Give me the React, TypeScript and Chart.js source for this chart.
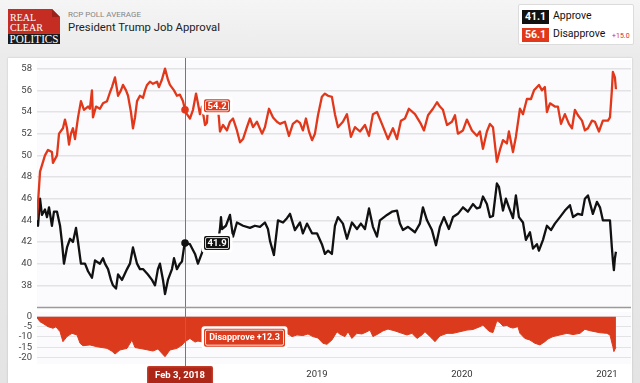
import React, { useEffect, useRef } from 'react';
import { Chart, registerables } from 'chart.js';

Chart.register(...registerables);

// ---- data (dates are decimal years) ----
const approveDates = [
  2017.069, 2017.076, 2017.090, 2017.103, 2017.124, 2017.138, 2017.152, 2017.172, 2017.186, 2017.207,
  2017.228, 2017.241, 2017.255, 2017.276, 2017.297, 2017.317, 2017.338, 2017.352, 2017.372, 2017.400,
  2017.421, 2017.448, 2017.469, 2017.503, 2017.524, 2017.538, 2017.559, 2017.579, 2017.593, 2017.614,
  2017.628, 2017.655, 2017.690, 2017.710, 2017.731, 2017.759, 2017.779, 2017.800, 2017.834, 2017.862,
  2017.883, 2017.903, 2017.917, 2017.938, 2017.952, 2017.972, 2018.000, 2018.014, 2018.034, 2018.055,
  2018.069, 2018.083, 2018.090, 2018.124, 2018.159, 2018.179, 2018.207, 2018.221, 2018.262, 2018.303,
  2018.324, 2018.331, 2018.338, 2018.345, 2018.372, 2018.400, 2018.421, 2018.448, 2018.490, 2018.538,
  2018.572, 2018.607, 2018.641, 2018.662, 2018.676, 2018.703, 2018.731, 2018.766, 2018.793, 2018.814,
  2018.848, 2018.883, 2018.903, 2018.931, 2018.966, 2019.000, 2019.034, 2019.055, 2019.076, 2019.103,
  2019.124, 2019.145, 2019.179, 2019.207, 2019.241, 2019.276, 2019.303, 2019.331, 2019.359, 2019.386,
  2019.414, 2019.434, 2019.483, 2019.517, 2019.552, 2019.572, 2019.593, 2019.628, 2019.676, 2019.710,
  2019.731, 2019.759, 2019.793, 2019.821, 2019.848, 2019.876, 2019.910, 2019.938, 2019.972, 2020.007,
  2020.041, 2020.076, 2020.103, 2020.124, 2020.145, 2020.172, 2020.193, 2020.214, 2020.241, 2020.255,
  2020.283, 2020.303, 2020.324, 2020.352, 2020.372, 2020.393, 2020.421, 2020.441, 2020.469, 2020.490,
  2020.517, 2020.531, 2020.559, 2020.586, 2020.614, 2020.641, 2020.676, 2020.710, 2020.745, 2020.766,
  2020.800, 2020.828, 2020.848, 2020.869, 2020.903, 2020.931, 2020.952, 2020.972, 2021.000, 2021.021,
  2021.034, 2021.041, 2021.048, 2021.055, 2021.062,
];
const approveValues = [
  44.0, 43.5, 46.0, 44.5, 45.0, 44.3, 45.2, 43.5, 44.8, 44.8,
  43.5, 42.0, 40.0, 41.5, 42.3, 42.0, 43.3, 42.0, 40.0, 40.0,
  39.3, 38.7, 40.3, 40.0, 40.5, 40.0, 39.5, 38.5, 38.0, 37.7,
  39.0, 38.5, 39.5, 40.0, 41.5, 40.0, 39.5, 39.5, 39.0, 38.5,
  38.0, 39.5, 40.0, 38.5, 37.2, 38.5, 39.5, 40.5, 39.5, 40.0,
  40.2, 41.5, 41.9, 41.8, 40.9, 40.0, 41.0, 41.8, 42.3, 42.2,
  42.6, 43.2, 44.3, 43.2, 43.5, 44.5, 42.5, 43.8, 43.5, 43.3,
  43.5, 43.4, 43.8, 43.2, 42.1, 40.8, 44.0, 43.8, 44.2, 44.6,
  43.1, 43.8, 42.8, 43.7, 42.8, 42.8, 41.8, 40.9, 41.2, 40.9,
  43.5, 44.3, 43.7, 42.3, 43.8, 43.2, 43.7, 43.2, 45.1, 43.4,
  42.5, 44.0, 44.5, 44.8, 44.9, 43.7, 43.1, 43.4, 42.9, 43.7,
  45.2, 44.0, 43.1, 41.7, 43.4, 44.3, 43.2, 44.3, 44.6, 45.2,
  44.8, 45.5, 45.1, 45.2, 46.2, 45.5, 44.3, 44.4, 47.4, 47.1,
  44.9, 46.0, 45.2, 44.2, 46.3, 44.3, 43.8, 42.2, 42.9, 41.4,
  41.8, 41.2, 42.2, 43.5, 43.1, 43.7, 44.3, 44.9, 45.4, 44.3,
  44.6, 44.5, 46.0, 46.3, 44.6, 45.7, 45.2, 44.0, 44.0, 44.0,
  41.5, 40.3, 39.4, 40.5, 41.1,
];

const disapproveDates = [
  2017.069, 2017.090, 2017.124, 2017.145, 2017.172, 2017.179, 2017.207, 2017.221, 2017.248, 2017.262,
  2017.276, 2017.290, 2017.303, 2017.317, 2017.331, 2017.352, 2017.372, 2017.393, 2017.421, 2017.434,
  2017.448, 2017.455, 2017.476, 2017.503, 2017.524, 2017.552, 2017.572, 2017.586, 2017.607, 2017.628,
  2017.648, 2017.662, 2017.683, 2017.697, 2017.717, 2017.731, 2017.745, 2017.759, 2017.779, 2017.800,
  2017.814, 2017.828, 2017.848, 2017.869, 2017.897, 2017.910, 2017.931, 2017.952, 2017.972, 2017.986,
  2018.014, 2018.034, 2018.055, 2018.076, 2018.090, 2018.103, 2018.124, 2018.145, 2018.166, 2018.179,
  2018.193, 2018.207, 2018.228, 2018.241, 2018.248, 2018.283, 2018.317, 2018.324, 2018.331, 2018.352,
  2018.379, 2018.400, 2018.421, 2018.448, 2018.469, 2018.490, 2018.517, 2018.538, 2018.559, 2018.586,
  2018.621, 2018.641, 2018.669, 2018.697, 2018.724, 2018.745, 2018.779, 2018.807, 2018.834, 2018.862,
  2018.883, 2018.903, 2018.924, 2018.945, 2018.966, 2018.986, 2019.007, 2019.034, 2019.055, 2019.076,
  2019.103, 2019.124, 2019.145, 2019.179, 2019.207, 2019.234, 2019.262, 2019.297, 2019.331, 2019.359,
  2019.386, 2019.414, 2019.448, 2019.490, 2019.524, 2019.552, 2019.579, 2019.607, 2019.634, 2019.676,
  2019.717, 2019.738, 2019.766, 2019.800, 2019.828, 2019.848, 2019.869, 2019.897, 2019.931, 2019.952,
  2019.972, 2020.007, 2020.034, 2020.069, 2020.103, 2020.124, 2020.145, 2020.172, 2020.193, 2020.214,
  2020.241, 2020.262, 2020.283, 2020.310, 2020.324, 2020.352, 2020.372, 2020.400, 2020.421, 2020.448,
  2020.476, 2020.497, 2020.531, 2020.552, 2020.572, 2020.586, 2020.607, 2020.641, 2020.662, 2020.683,
  2020.710, 2020.738, 2020.759, 2020.779, 2020.800, 2020.828, 2020.848, 2020.869, 2020.897, 2020.917,
  2020.945, 2020.972, 2021.007, 2021.021, 2021.034, 2021.041, 2021.055, 2021.062,
];
const disapproveValues = [
  44.2, 48.5, 50.0, 50.5, 50.3, 49.3, 50.0, 52.0, 52.5, 53.3,
  52.5, 51.0, 52.0, 52.5, 51.5, 53.5, 55.0, 54.2, 54.5, 54.3,
  56.0, 53.5, 54.5, 54.3, 54.8, 55.0, 55.8, 56.3, 57.2, 55.5,
  56.0, 56.5, 56.0, 55.5, 54.0, 52.5, 53.5, 55.0, 55.5, 55.3,
  56.0, 56.5, 56.8, 56.6, 56.8, 56.3, 57.0, 58.0, 57.0, 56.5,
  56.0, 55.5, 55.6, 55.0, 54.2, 53.8, 53.4, 54.2, 55.7, 54.8,
  53.8, 54.5, 52.8, 53.0, 54.5, 54.8, 54.3, 53.4, 52.2, 52.8,
  52.3, 53.1, 53.4, 52.3, 51.2, 51.5, 52.6, 53.4, 52.6, 53.1,
  52.0, 52.6, 54.3, 53.5, 53.1, 52.9, 53.1, 51.8, 52.9, 53.2,
  53.0, 52.3, 53.4, 52.2, 51.4, 52.0, 53.7, 55.4, 55.7, 55.5,
  55.4, 53.8, 52.6, 53.1, 53.8, 51.7, 52.6, 52.2, 52.8, 51.8,
  53.8, 54.0, 52.9, 51.5, 52.5, 51.5, 53.2, 53.4, 54.3, 53.8,
  52.9, 52.3, 53.7, 54.3, 54.9, 54.5, 54.2, 52.8, 53.1, 53.7,
  52.0, 52.3, 53.3, 52.3, 51.8, 52.2, 50.6, 52.2, 52.9, 52.6,
  49.4, 50.5, 51.4, 51.1, 52.2, 50.3, 51.7, 54.3, 53.8, 55.2,
  55.2, 56.0, 56.5, 56.0, 56.3, 54.0, 54.8, 54.5, 54.5, 52.9,
  53.8, 52.9, 52.5, 54.2, 53.7, 53.2, 52.3, 52.5, 53.2, 53.1,
  52.2, 53.2, 53.2, 53.5, 56.0, 57.7, 57.2, 56.1,
];

const spreadDates = [
  2017.069, 2017.090, 2017.110, 2017.145, 2017.179, 2017.200, 2017.228, 2017.248, 2017.276, 2017.310,
  2017.345, 2017.366, 2017.386, 2017.434, 2017.483, 2017.552, 2017.586, 2017.607, 2017.641, 2017.690,
  2017.724, 2017.745, 2017.800, 2017.869, 2017.903, 2017.952, 2017.986, 2018.034, 2018.069, 2018.090,
  2018.124, 2018.159, 2018.179, 2018.214, 2018.262, 2018.331, 2018.400, 2018.469, 2018.538, 2018.628,
  2018.676, 2018.710, 2018.766, 2018.793, 2018.828, 2018.862, 2018.903, 2018.938, 2018.972, 2019.007,
  2019.041, 2019.069, 2019.103, 2019.138, 2019.159, 2019.193, 2019.214, 2019.241, 2019.276, 2019.310,
  2019.345, 2019.366, 2019.386, 2019.421, 2019.455, 2019.490, 2019.538, 2019.586, 2019.621, 2019.655,
  2019.690, 2019.724, 2019.745, 2019.793, 2019.814, 2019.848, 2019.897, 2019.938, 2019.986, 2020.034,
  2020.076, 2020.124, 2020.145, 2020.172, 2020.193, 2020.214, 2020.241, 2020.262, 2020.283, 2020.310,
  2020.331, 2020.352, 2020.386, 2020.400, 2020.434, 2020.469, 2020.503, 2020.538, 2020.572, 2020.593,
  2020.628, 2020.676, 2020.724, 2020.766, 2020.814, 2020.848, 2020.883, 2020.917, 2020.952, 2021.000,
  2021.021, 2021.041, 2021.048, 2021.062,
];
const spreadValues = [
  -0.5, -2.5, -3.3, -4.9, -5.7, -5.0, -7.4, -12.3, -9.8, -8.2,
  -9.0, -13.1, -14.3, -13.9, -14.8, -15.6, -17.0, -18.4, -16.4, -15.6,
  -11.5, -15.2, -15.9, -16.9, -15.9, -19.7, -16.4, -15.6, -14.0, -12.3,
  -10.7, -12.5, -12.0, -12.5, -11.0, -8.0, -8.7, -7.6, -10.0, -8.4,
  -12.0, -12.2, -9.0, -8.2, -9.8, -9.0, -9.3, -8.5, -9.8, -10.5,
  -13.1, -13.6, -11.5, -7.4, -8.7, -9.8, -7.4, -10.7, -8.2, -8.5,
  -7.4, -6.6, -9.8, -8.5, -7.0, -6.1, -7.0, -8.2, -9.0, -8.2,
  -10.7, -9.0, -7.4, -10.7, -12.3, -9.5, -8.2, -8.2, -7.4, -6.6,
  -6.3, -4.9, -4.1, -6.2, -7.4, -7.8, -2.0, -3.0, -4.6, -4.3,
  -5.2, -5.6, -4.9, -8.2, -10.7, -11.5, -13.1, -13.9, -12.3, -11.0,
  -9.8, -9.0, -8.2, -8.8, -8.2, -6.2, -6.9, -7.4, -7.9, -8.2,
  -9.0, -14.8, -17.2, -15.0,
];

const mainTicks = [38, 40, 42, 44, 46, 48, 50, 52, 54, 56, 58];
const spreadTicks = [0, -5, -10, -15, -20];
const yearTicks = [2018, 2019, 2020, 2021];

const X_MIN = 2017.069;
const X_MAX = 2021.166;

const crossDate = 2018.090;
const crossLabel = 'Feb 3, 2018';
const crossApprove = 41.9;
const crossDisapprove = 54.2;
const crossSpread = -12.3;

const latestApprove = '41.1';
const latestDisapprove = '56.1';
const latestSpread = '+15.0';

const FONT = 'Roboto, "Liberation Sans", Arial, sans-serif';
const RED = '#e1381b';
const FILL_RED = '#dc3a1c';
const BLACK = '#111111';

const toPoints = (d: number[], v: number[]) => d.map((x, i) => ({ x, y: v[i] }));

function drawTag(
  ctx: CanvasRenderingContext2D,
  x: number,
  cy: number,
  w: number,
  h: number,
  text: string,
  bg: string,
  fontSize: number,
) {
  ctx.save();
  ctx.fillStyle = '#ffffff';
  ctx.beginPath();
  (ctx as any).roundRect(x - 2.5, cy - h / 2 - 2.5, w + 5, h + 5, 3);
  ctx.fill();
  ctx.fillStyle = bg;
  ctx.beginPath();
  (ctx as any).roundRect(x, cy - h / 2, w, h, 2);
  ctx.fill();
  ctx.strokeStyle = 'rgba(255,255,255,0.85)';
  ctx.lineWidth = 1;
  ctx.beginPath();
  (ctx as any).roundRect(x + 1.5, cy - h / 2 + 1.5, w - 3, h - 3, 1.5);
  ctx.stroke();
  ctx.fillStyle = '#ffffff';
  ctx.font = `bold ${fontSize}px ${FONT}`;
  ctx.textAlign = 'center';
  ctx.textBaseline = 'middle';
  ctx.fillText(text, x + w / 2, cy + 0.5);
  ctx.restore();
}

export default function App() {
  const mainRef = useRef<HTMLCanvasElement>(null);
  const spreadRef = useRef<HTMLCanvasElement>(null);

  useEffect(() => {
    Chart.defaults.font.family = FONT;

    const mainPlugin = {
      id: 'mainDecor',
      beforeDraw(chart: any) {
        const { ctx, chartArea: a } = chart;
        ctx.save();
        ctx.fillStyle = '#fbfbfd';
        ctx.fillRect(a.left, a.top, a.right - a.left, a.bottom - a.top);
        ctx.restore();
      },
      beforeDatasetsDraw(chart: any) {
        const { ctx } = chart;
        const cx = Math.round(chart.scales.x.getPixelForValue(crossDate)) + 0.5;
        ctx.save();
        ctx.strokeStyle = '#777';
        ctx.lineWidth = 1;
        ctx.beginPath();
        ctx.moveTo(cx, 0);
        ctx.lineTo(cx, chart.height);
        ctx.stroke();
        ctx.restore();
      },
      afterDatasetsDraw(chart: any) {
        const { ctx, chartArea: a } = chart;
        const xs = chart.scales.x;
        const ys = chart.scales.y;
        ctx.save();
        ctx.strokeStyle = '#9a9a9a';
        ctx.lineWidth = 1.5;
        ctx.beginPath();
        ctx.moveTo(a.left, a.bottom + 0.5);
        ctx.lineTo(a.right, a.bottom + 0.5);
        ctx.stroke();
        const cx = xs.getPixelForValue(crossDate);
        const pr = ys.getPixelForValue(crossDisapprove);
        const pb = ys.getPixelForValue(crossApprove);
        ctx.fillStyle = RED;
        ctx.beginPath();
        ctx.arc(cx, pr, 3.8, 0, Math.PI * 2);
        ctx.fill();
        ctx.fillStyle = BLACK;
        ctx.beginPath();
        ctx.arc(cx, pb, 3.8, 0, Math.PI * 2);
        ctx.fill();
        ctx.restore();
        drawTag(ctx, cx + 19, pr - 4, 26, 13, crossDisapprove.toFixed(1), RED, 9.5);
        drawTag(ctx, cx + 19, pb, 26, 14, crossApprove.toFixed(1), BLACK, 9.5);
      },
    };

    const spreadPlugin = {
      id: 'spreadDecor',
      beforeDraw(chart: any) {
        const { ctx, chartArea: a } = chart;
        ctx.save();
        ctx.fillStyle = '#fbfbfd';
        ctx.fillRect(a.left, a.top, a.right - a.left, a.bottom - a.top);
        ctx.restore();
      },
      afterDraw(chart: any) {
        const { ctx } = chart;
        const xs = chart.scales.x;
        const ys = chart.scales.y;
        const cx = xs.getPixelForValue(crossDate);
        const lx = Math.round(cx) + 0.5;
        ctx.save();
        ctx.strokeStyle = '#777';
        ctx.lineWidth = 1;
        ctx.beginPath();
        ctx.moveTo(lx, 0);
        ctx.lineTo(lx, 56);
        ctx.stroke();
        ctx.restore();
        const py = ys.getPixelForValue(crossSpread);
        drawTag(ctx, cx + 19, py - 4, 81, 18, `Disapprove +${Math.abs(crossSpread).toFixed(1)}`, FILL_RED, 9);
        // date box
        ctx.save();
        const bx = cx - 38;
        ctx.fillStyle = '#c23a28';
        ctx.beginPath();
        (ctx as any).roundRect(bx, 56, 66, 22, 2);
        ctx.fill();
        ctx.fillStyle = '#ad2718';
        ctx.fillRect(bx + 1.5, 57.5, 63, 20);
        ctx.fillStyle = '#ffffff';
        ctx.font = `bold 9.5px ${FONT}`;
        ctx.textAlign = 'center';
        ctx.textBaseline = 'middle';
        ctx.fillText(crossLabel, bx + 33, 65.5);
        ctx.restore();
      },
    };

    const main = new Chart(mainRef.current as HTMLCanvasElement, {
      type: 'line',
      data: {
        datasets: [
          {
            label: 'Disapprove',
            data: toPoints(disapproveDates, disapproveValues),
            borderColor: RED,
            borderWidth: 2.3,
            pointRadius: 0,
            tension: 0,
            borderJoinStyle: 'round',
          },
          {
            label: 'Approve',
            data: toPoints(approveDates, approveValues),
            borderColor: BLACK,
            borderWidth: 2.3,
            pointRadius: 0,
            tension: 0,
            borderJoinStyle: 'round',
          },
        ],
      },
      options: {
        responsive: false,
        animation: false,
        devicePixelRatio: 1,
        events: [],
        layout: { padding: { top: 2, bottom: 3, left: 0, right: 1 } },
        plugins: { legend: { display: false }, tooltip: { enabled: false } },
        scales: {
          x: { type: 'linear', min: X_MIN, max: X_MAX, display: false },
          y: {
            min: 36,
            max: 58.8,
            afterBuildTicks: (s: any) => {
              s.ticks = mainTicks.map((v) => ({ value: v }));
            },
            afterFit: (s: any) => {
              s.width = 29;
              s.paddingTop = 0;
              s.paddingBottom = 0;
            },
            ticks: {
              color: '#444',
              font: { size: 9.5 },
              padding: 5,
              autoSkip: false,
              callback: (v: any) => String(v),
            },
            grid: { color: '#e3e3e6', lineWidth: 1.5, drawTicks: false },
            border: { display: false },
          },
        },
      } as any,
      plugins: [mainPlugin],
    });

    const spread = new Chart(spreadRef.current as HTMLCanvasElement, {
      type: 'line',
      data: {
        datasets: [
          {
            label: 'Spread',
            data: toPoints(spreadDates, spreadValues),
            borderColor: FILL_RED,
            backgroundColor: FILL_RED,
            borderWidth: 1,
            pointRadius: 0,
            tension: 0,
            fill: 'origin',
          },
        ],
      },
      options: {
        responsive: false,
        animation: false,
        devicePixelRatio: 1,
        events: [],
        layout: { padding: { top: 2, bottom: 0, left: 0, right: 1 } },
        plugins: { legend: { display: false }, tooltip: { enabled: false } },
        scales: {
          x: {
            type: 'linear',
            min: X_MIN,
            max: X_MAX,
            afterBuildTicks: (s: any) => {
              s.ticks = yearTicks.map((v) => ({ value: v }));
            },
            afterFit: (s: any) => {
              s.height = 19;
              s.paddingLeft = 0;
              s.paddingRight = 0;
            },
            ticks: {
              color: '#333',
              font: { size: 9.5 },
              padding: 5,
              autoSkip: false,
              maxRotation: 0,
              callback: (v: any) => String(v),
            },
            grid: { display: false, drawTicks: false },
            border: { display: false },
          },
          y: {
            min: -23.3,
            max: 2.3,
            afterBuildTicks: (s: any) => {
              s.ticks = spreadTicks.map((v) => ({ value: v }));
            },
            afterFit: (s: any) => {
              s.width = 29;
              s.paddingTop = 0;
              s.paddingBottom = 0;
            },
            ticks: {
              color: '#444',
              font: { size: 9.5 },
              padding: 5,
              autoSkip: false,
              callback: (v: any) => String(v),
            },
            grid: { color: '#e3e3e6', lineWidth: 1, drawTicks: false },
            border: { display: false },
          },
        },
      } as any,
      plugins: [spreadPlugin],
    });

    return () => {
      main.destroy();
      spread.destroy();
    };
  }, []);

  const abs = (o: React.CSSProperties): React.CSSProperties => ({ position: 'absolute', ...o });

  return (
    <div
      style={{
        position: 'fixed',
        left: 0,
        top: 0,
        width: 640,
        height: 383,
        overflow: 'hidden',
        background: 'linear-gradient(#f5f5f5 0px, #ebebeb 55px, #e4e4e4 383px)',
        fontFamily: FONT,
      }}
    >
      <svg style={abs({ left: 8, top: 9 })} width={52} height={35} viewBox="0 0 52 35">
        <rect x={0} y={0} width={52} height={24.5} fill="#c52c22" />
        <polygon points="44,0 52,0 52,8" fill="#efefef" />
        <polygon points="44,0 52,8 44,8" fill="#9b2219" />
        <rect x={0} y={24.5} width={52} height={10.5} fill="#1b1b1b" />
        <text x={2} y={12} fontFamily='"Liberation Serif", "DejaVu Serif", serif' fontSize={11} fill="#fff" textLength={26} lengthAdjust="spacingAndGlyphs">REAL</text>
        <text x={2} y={21.5} fontFamily='"Liberation Serif", "DejaVu Serif", serif' fontSize={11} fill="#fff" textLength={33} lengthAdjust="spacingAndGlyphs">CLEAR</text>
        <text x={1.5} y={33.8} fontFamily='"Liberation Serif", "DejaVu Serif", serif' fontSize={12} fill="#fff" textLength={49} lengthAdjust="spacingAndGlyphs">POLITICS</text>
      </svg>
      <div style={abs({ left: 68, top: 10.6, fontSize: 8, lineHeight: '8px', color: '#858585', whiteSpace: 'nowrap' })}>
        RCP POLL AVERAGE
      </div>
      <div style={abs({ left: 68, top: 21.8, fontSize: 11.3, lineHeight: '11.3px', color: '#222', whiteSpace: 'nowrap' })}>
        President Trump Job Approval
      </div>

      <div
        style={abs({
          left: 518,
          top: 4,
          width: 116,
          height: 41,
          background: '#fff',
          border: '1px solid #dcdcdc',
          borderRadius: 2,
          boxSizing: 'border-box',
        })}
      />
      <div
        style={abs({
          left: 522,
          top: 10,
          width: 27,
          height: 13.5,
          background: BLACK,
          color: '#fff',
          fontWeight: 700,
          fontSize: 10.5,
          lineHeight: '13.5px',
          textAlign: 'center',
        })}
      >
        {latestApprove}
      </div>
      <div style={abs({ left: 553, top: 10.9, fontSize: 10.5, lineHeight: '10.5px', color: '#111', whiteSpace: 'nowrap' })}>
        Approve
      </div>
      <div
        style={abs({
          left: 522,
          top: 28,
          width: 27,
          height: 14,
          background: RED,
          color: '#fff',
          fontWeight: 700,
          fontSize: 10.5,
          lineHeight: '14px',
          textAlign: 'center',
        })}
      >
        {latestDisapprove}
      </div>
      <div style={abs({ left: 553, top: 29.3, fontSize: 10.5, lineHeight: '10.5px', color: '#111', whiteSpace: 'nowrap' })}>
        Disapprove
      </div>
      <div style={abs({ left: 612, top: 32.5, fontSize: 7, lineHeight: '7px', color: '#d8321b', whiteSpace: 'nowrap' })}>
        {latestSpread}
      </div>

      <div
        style={abs({
          left: 8,
          top: 58,
          width: 624,
          height: 330,
          background: '#fff',
          boxShadow: '0 0 2px rgba(0,0,0,0.18)',
        })}
      />
      <canvas ref={mainRef} width={624} height={252} style={abs({ left: 8, top: 58, width: 624, height: 252 })} />
      <canvas ref={spreadRef} width={624} height={73} style={abs({ left: 8, top: 310, width: 624, height: 73 })} />
    </div>
  );
}
